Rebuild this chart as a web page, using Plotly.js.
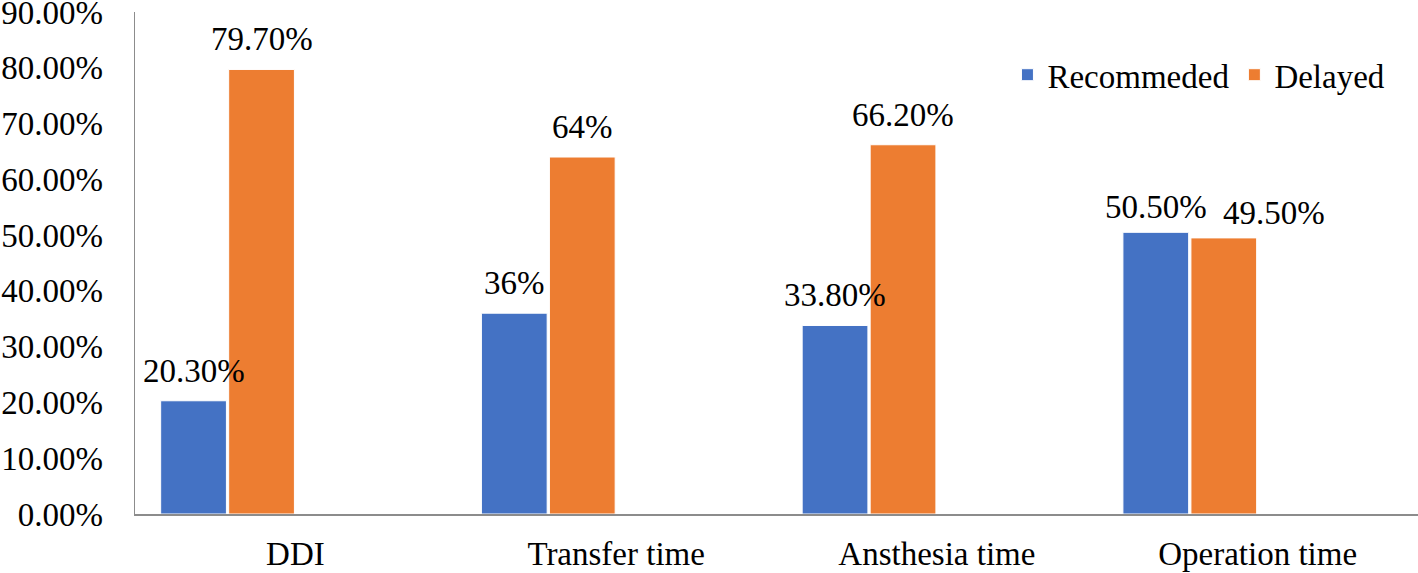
<!DOCTYPE html>
<html>
<head>
<meta charset="utf-8">
<script src="https://cdn.plot.ly/plotly-3.0.1.min.js"></script>
<style>html,body{margin:0;padding:0;background:#fff;}#chart{width:1418px;height:573px;}</style>
</head>
<body>
<div id="chart"></div>
<script>
const categories = ["DDI", "Transfer time", "Ansthesia time", "Operation time"];
const recommended = [20.3, 36, 33.8, 50.5];
const delayed = [79.7, 64, 66.2, 49.5];
const recommendedLabels = ["20.30%", "36%", "33.80%", "50.50%"];
const delayedLabels = ["79.70%", "64%", "66.20%", "49.50%"];
const yTickVals = [0, 10, 20, 30, 40, 50, 60, 70, 80, 90];
const yTickText = ["0.00%", "10.00%", "20.00%", "30.00%", "40.00%", "50.00%", "60.00%", "70.00%", "80.00%", "90.00%"];

const FONT = "Liberation Serif, Times New Roman, serif";
const BLUE = "#4472C4", ORANGE = "#ED7D31";
const barW = 0.205;
const blueOff = -0.42, orangeOff = -0.208;

const traces = [
  {type: "bar", name: "Recommeded", x: categories, y: recommended,
   width: barW, offset: blueOff,
   marker: {color: BLUE, line: {color: "#ffffff", width: 1}}, hoverinfo: "skip"},
  {type: "bar", name: "Delayed", x: categories, y: delayed,
   width: barW, offset: orangeOff,
   marker: {color: ORANGE, line: {color: "#ffffff", width: 1}}, hoverinfo: "skip"}
];

const catPx = (1418 - 135) / categories.length;
const annotations = [];
categories.forEach((c, i) => {
  // the last orange label is nudged right in the original so it doesn't collide with its neighbour
  const nudge = (i === categories.length - 1) ? 50 : 0;
  const lift = (i === categories.length - 1) ? 5 : 10;
  annotations.push({x: c, y: recommended[i], text: recommendedLabels[i], showarrow: false,
    xanchor: "center", yanchor: "bottom", xshift: (blueOff + barW / 2) * catPx, yshift: lift,
    font: {family: FONT, size: 33, color: "#000"}});
  annotations.push({x: c, y: delayed[i], text: delayedLabels[i], showarrow: false,
    xanchor: "center", yanchor: "bottom", xshift: (orangeOff + barW / 2) * catPx + nudge, yshift: lift,
    font: {family: FONT, size: 33, color: "#000"}});
});

const layout = {
  width: 1418, height: 573,
  margin: {l: 135, r: 0, t: 12, b: 59, pad: 0},
  paper_bgcolor: "#fff", plot_bgcolor: "#fff",
  font: {family: FONT, size: 33, color: "#000"},
  barmode: "group",
  showlegend: true,
  legend: {orientation: "h", x: 0.68, xanchor: "left", y: 0.875, yanchor: "middle",
    font: {family: FONT, size: 33, color: "#000"}, bgcolor: "rgba(0,0,0,0)", traceorder: "normal"},
  xaxis: {type: "category", showgrid: false, zeroline: false, showline: true,
    linecolor: "#8c8c8c", linewidth: 1.5, ticks: "", ticklabelstandoff: 10,
    ticklabeloverflow: "allow",
    tickfont: {family: FONT, size: 33, color: "#000"}, fixedrange: true},
  yaxis: {range: [0, 90], tickvals: yTickVals, ticktext: yTickText, showgrid: false,
    zeroline: false, showline: true, linecolor: "#8c8c8c", linewidth: 1.5, ticks: "",
    ticklabelstandoff: 24, ticklabeloverflow: "allow",
    tickfont: {family: FONT, size: 33, color: "#000"}, fixedrange: true},
  annotations: annotations
};

Plotly.newPlot("chart", traces, layout, {displayModeBar: false, staticPlot: true});
</script>
</body>
</html>
